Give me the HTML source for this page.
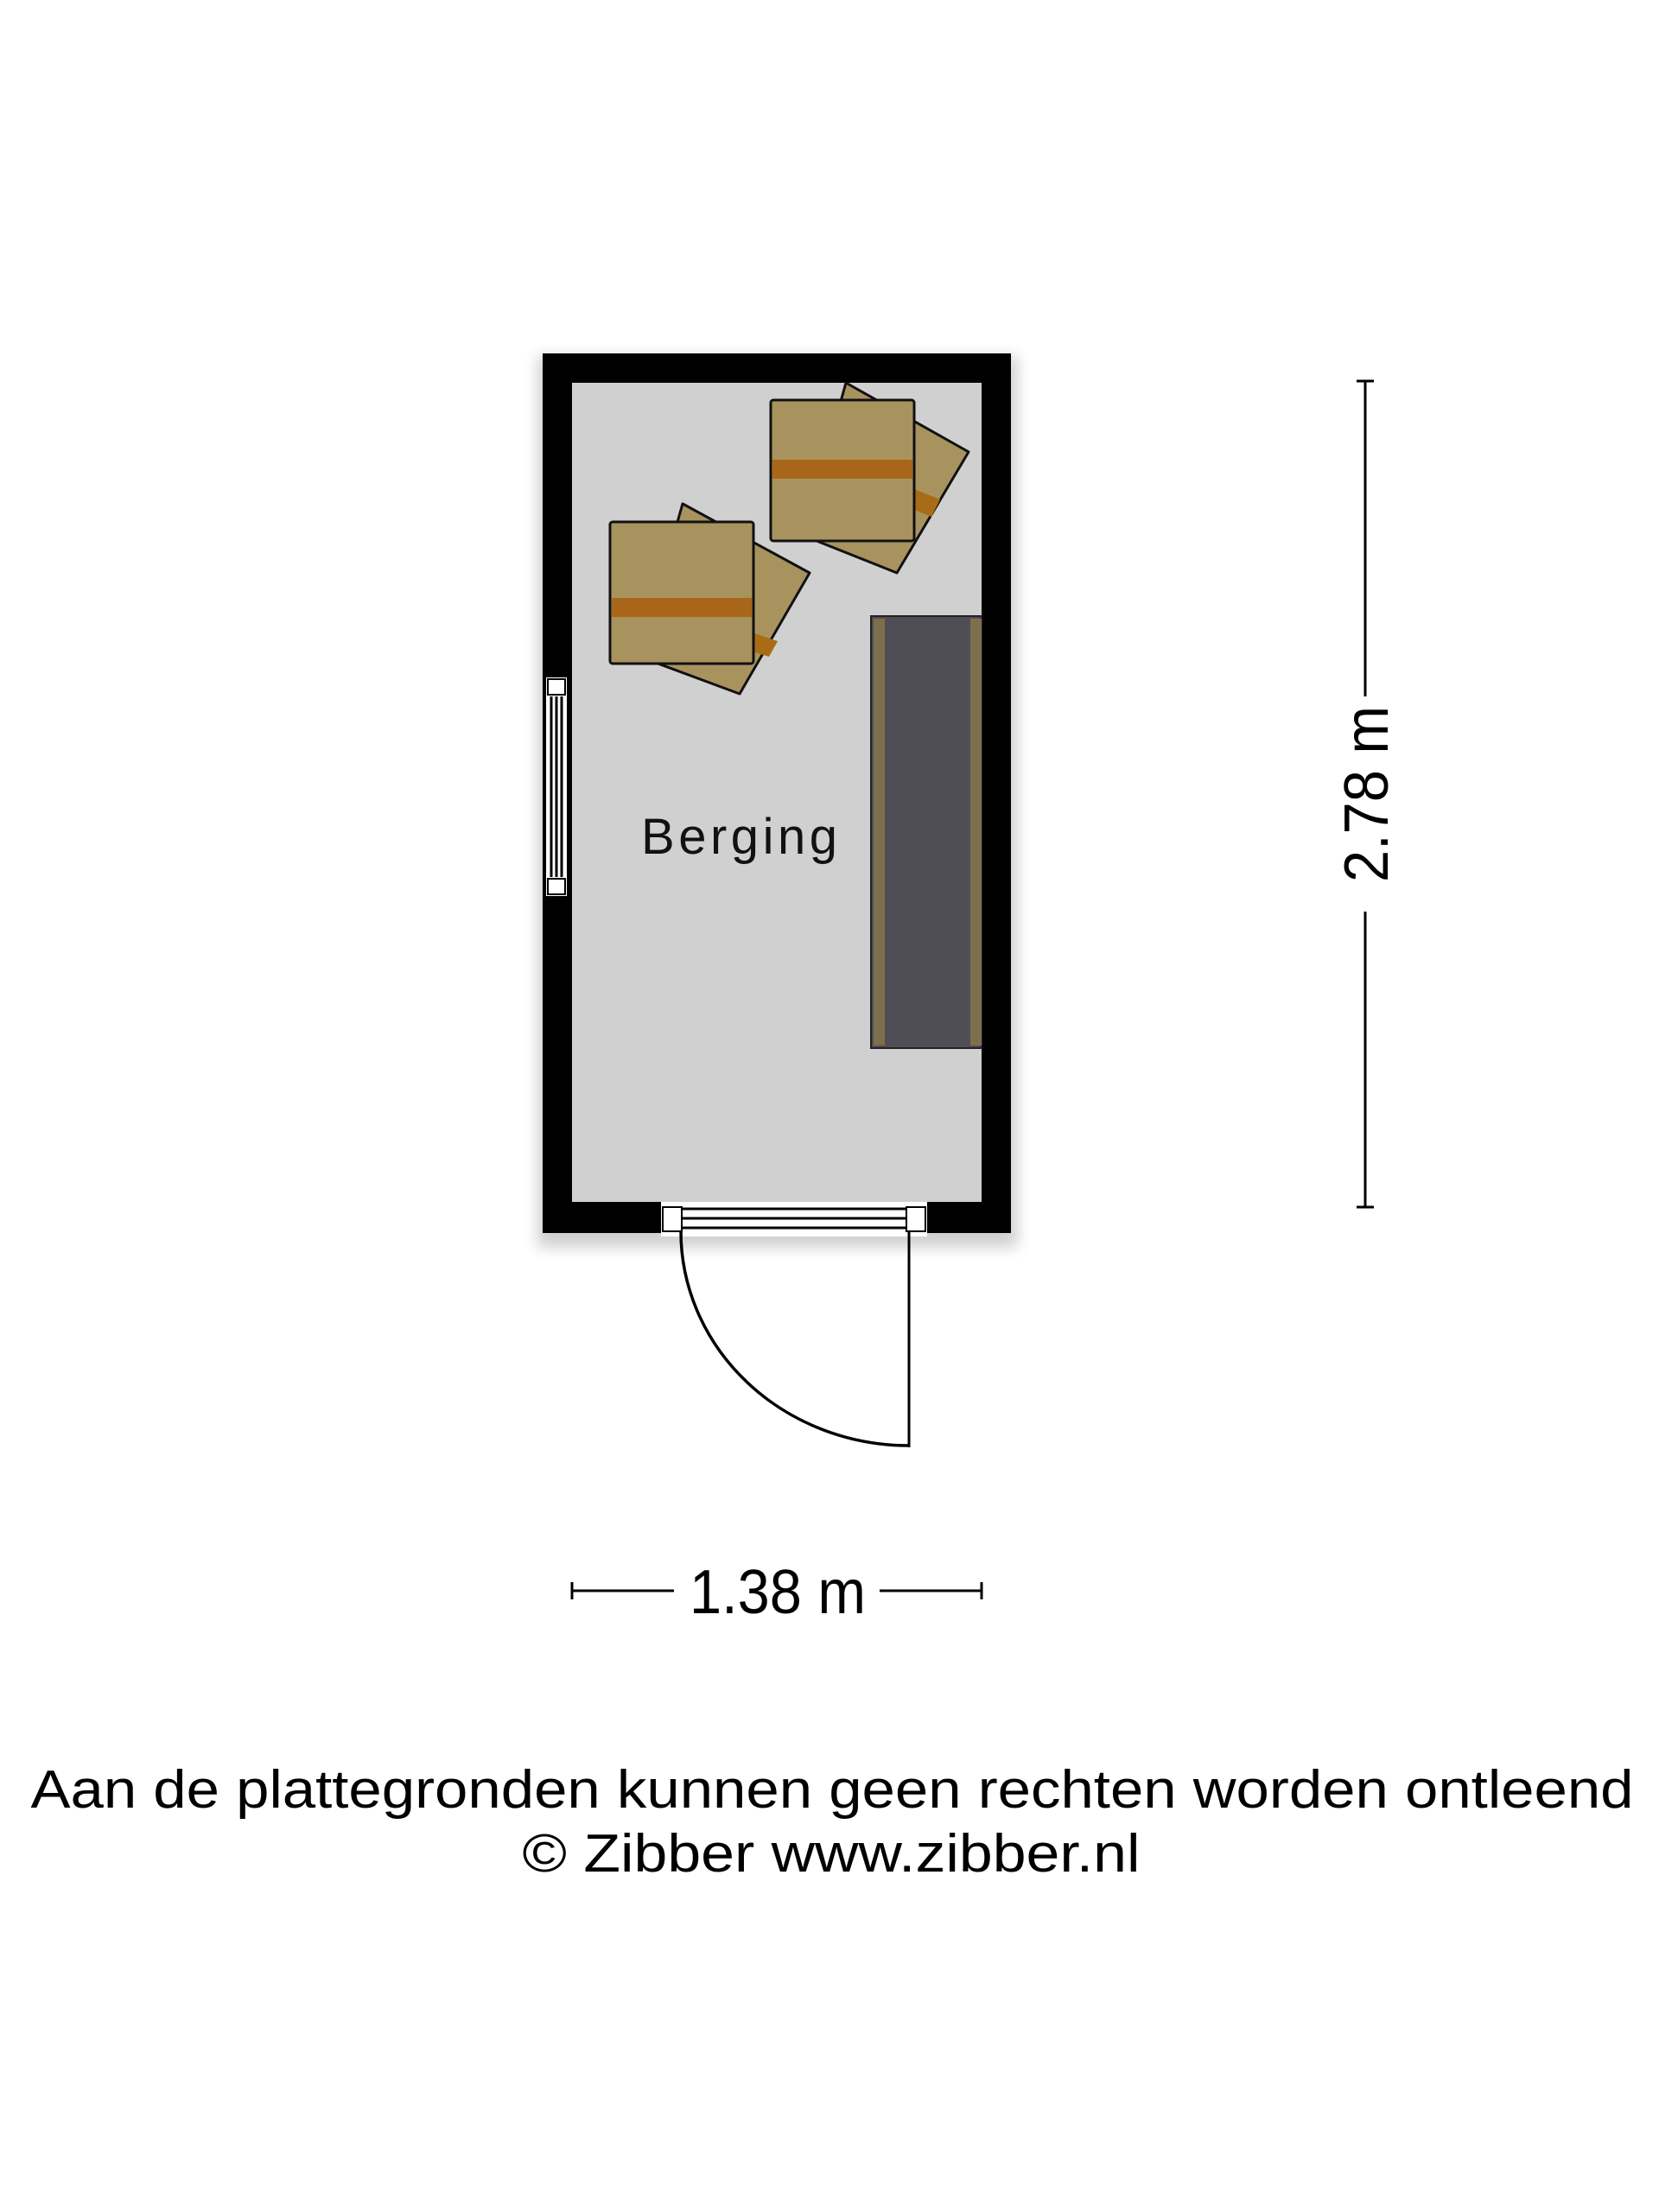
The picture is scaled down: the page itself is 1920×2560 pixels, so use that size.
<!DOCTYPE html>
<html><head><meta charset="utf-8"><style>html,body{margin:0;padding:0;background:#fff}svg{display:block}</style></head>
<body>
<svg width="1920" height="2560" viewBox="0 0 1920 2560" xmlns="http://www.w3.org/2000/svg">
<defs>
<filter id="sh" x="-10%" y="-10%" width="120%" height="120%"><feGaussianBlur stdDeviation="8"/></filter>
</defs>
<rect x="622" y="412" width="556" height="1032" fill="#000" opacity="0.18" filter="url(#sh)"/>
<rect x="628" y="409" width="542" height="1018" fill="#000"/>
<rect x="662" y="443" width="474" height="948" fill="#d0d0d0"/>
<rect x="632" y="784" width="24" height="253" fill="#fff"/>
<rect x="634" y="786" width="20" height="18" fill="#fff" stroke="#000" stroke-width="2"/>
<rect x="634" y="1017" width="20" height="18" fill="#fff" stroke="#000" stroke-width="2"/>
<line x1="638" y1="806" x2="638" y2="1015" stroke="#000" stroke-width="3"/>
<line x1="644" y1="806" x2="644" y2="1015" stroke="#000" stroke-width="3"/>
<line x1="650" y1="806" x2="650" y2="1015" stroke="#000" stroke-width="3"/>
<rect x="765" y="1391" width="308" height="40" fill="#fff"/>
<rect x="767" y="1397" width="22" height="28" fill="#fff" stroke="#000" stroke-width="2"/>
<rect x="1049" y="1397" width="22" height="28" fill="#fff" stroke="#000" stroke-width="2"/>
<line x1="789" y1="1399" x2="1049" y2="1399" stroke="#000" stroke-width="3"/>
<line x1="789" y1="1410" x2="1049" y2="1410" stroke="#000" stroke-width="3"/>
<line x1="789" y1="1421" x2="1049" y2="1421" stroke="#000" stroke-width="3"/>
<line x1="1052" y1="1425" x2="1052" y2="1675" stroke="#000" stroke-width="3"/>
<path d="M788 1425 A264 248 0 0 0 1052 1673" fill="none" stroke="#000" stroke-width="3.5"/>
<rect x="1008" y="713" width="128" height="500" fill="#4f4e55" stroke="#222" stroke-width="2"/>
<rect x="1011" y="716" width="13" height="494" fill="#7d6f4e"/>
<rect x="1123" y="716" width="13" height="494" fill="#7d6f4e"/>
<polygon points="790,583 937,663 856,803 740,760" fill="#a8935f" stroke="#111" stroke-width="3" stroke-linejoin="round"/>
<polygon points="870,732 900,742 890,760 870,754" fill="#a86c17"/>
<rect x="706" y="604" width="166" height="164" rx="3" fill="#a8935f" stroke="#111" stroke-width="3"/>
<rect x="708" y="692" width="162" height="22" fill="#a8661a"/>
<polygon points="979,443 1121,523 1038,663 930,620" fill="#a8935f" stroke="#111" stroke-width="3" stroke-linejoin="round"/>
<polygon points="1058,566 1088,578 1078,598 1058,590" fill="#a86c17"/>
<rect x="892" y="463" width="166" height="163" rx="3" fill="#a8935f" stroke="#111" stroke-width="3"/>
<rect x="894" y="532" width="162" height="22" fill="#a8661a"/>
<text x="858" y="988" text-anchor="middle" font-family="Liberation Sans, sans-serif" font-size="58" letter-spacing="5" fill="#111" textLength="232">Berging</text>
<line x1="1580" y1="441" x2="1580" y2="806" stroke="#000" stroke-width="3"/>
<line x1="1580" y1="1055" x2="1580" y2="1397" stroke="#000" stroke-width="3"/>
<line x1="1570" y1="441" x2="1590" y2="441" stroke="#000" stroke-width="3"/>
<line x1="1570" y1="1397" x2="1590" y2="1397" stroke="#000" stroke-width="3"/>
<text transform="translate(1606,919) rotate(-90)" text-anchor="middle" font-family="Liberation Sans, sans-serif" font-size="72" fill="#000" textLength="204" lengthAdjust="spacingAndGlyphs">2.78 m</text>
<line x1="662" y1="1841" x2="780" y2="1841" stroke="#000" stroke-width="3"/>
<line x1="1018" y1="1841" x2="1136" y2="1841" stroke="#000" stroke-width="3"/>
<line x1="662" y1="1831" x2="662" y2="1851" stroke="#000" stroke-width="3"/>
<line x1="1136" y1="1831" x2="1136" y2="1851" stroke="#000" stroke-width="3"/>
<text x="900" y="1867" text-anchor="middle" font-family="Liberation Sans, sans-serif" font-size="72" fill="#000" textLength="204" lengthAdjust="spacingAndGlyphs">1.38 m</text>
<text x="963" y="2092" text-anchor="middle" font-family="Liberation Sans, sans-serif" font-size="62" fill="#000" textLength="1855" lengthAdjust="spacingAndGlyphs">Aan de plattegronden kunnen geen rechten worden ontleend</text>
<text x="962" y="2166" text-anchor="middle" font-family="Liberation Sans, sans-serif" font-size="62" fill="#000" textLength="715" lengthAdjust="spacingAndGlyphs">© Zibber www.zibber.nl</text>
</svg>
</body></html>
